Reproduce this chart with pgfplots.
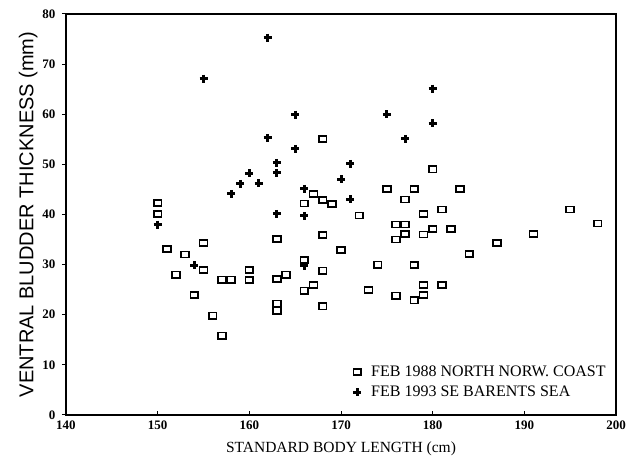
\documentclass[border=0pt]{standalone}
\usepackage{fontspec}
\setmainfont{Liberation Serif}
\newfontfamily\labsans{Liberation Sans}
\usepackage{pgfplots}
\pgfplotsset{compat=1.18}

% 1988 north Norwegian coast (open squares)
\pgfplotstableread{
x y
150 42.3
150 40.1
151 33.1
152 28.0
153 32.0
154 23.9
155 34.3
155 28.9
156 19.8
157 15.8
157 27.0
158 27.0
160 28.9
160 26.9
163 35.1
163 27.1
164 28.0
163 22.2
163 20.8
166 42.2
167 44.1
168 42.9
169 42.1
168 55.1
172 39.8
168 35.9
166 30.9
166 24.8
167 25.9
168 28.8
168 21.7
170 32.9
173 24.9
174 30.0
175 45.1
176 38.0
177 38.0
177 43.0
176 35.0
177 36.1
176 23.8
178 45.1
178 29.9
178 22.9
179 23.9
179 25.9
179 40.1
179 36.0
180 37.1
180 49.0
181 41.0
181 25.9
182 37.1
183 45.1
184 32.1
187 34.3
191 36.1
195 41.0
198 38.2
}\norw

% 1993 SE Barents Sea (plus)
\pgfplotstableread{
x y
162 75.3
155 67.1
165 59.9
162 55.3
165 53.1
163 50.3
171 50.1
163 48.3
160 48.2
159 46.1
161 46.2
170 47.0
158 44.1
166 45.1
171 43.0
163 40.1
166 39.7
150 38.0
154 29.9
166 29.8
180 65.1
175 60.0
180 58.2
177 55.1
}\barents

\begin{document}
\begin{tikzpicture}
\begin{axis}[
    scale only axis,
    width=550pt, height=401pt,
    xmin=140, xmax=200, ymin=0, ymax=80,
    xtick={140,150,...,200},
    ytick={0,10,...,80},
    axis line style={line width=1.3pt},
    tick style={line width=1pt, black},
    xtick pos=bottom, ytick pos=left,
    major tick length=4pt,
    xtick align=inside, ytick align=outside,
    /pgf/number format/assume math mode=true,
    ticklabel style={font=\fontsize{13}{15}\selectfont\bfseries},
    yticklabel style={xshift=-3pt},
    xticklabel style={yshift=-2pt},
    xlabel={STANDARD BODY LENGTH (cm)},
    ylabel={VENTRAL BLUDDER THICKNESS (mm)},
    xlabel style={font=\fontsize{15.5}{17}\selectfont, yshift=-6pt},
    ylabel style={font=\labsans\fontsize{20}{22}\selectfont, yshift=-2pt},
    legend style={at={(0.52,0.13)}, anchor=north west, draw=none, fill=none,
        font=\fontsize{16}{19}\selectfont, row sep=4pt,
        inner sep=1pt,
        /tikz/every odd column/.append style={column sep=8pt}},
    legend cell align=left,
]
\coordinate (bl) at (rel axis cs:0,0);
\coordinate (tr) at (rel axis cs:1,1);
\addplot[only marks, mark=square, mark size=3.1pt,
    mark options={xscale=1.25, line width=1.6pt, black}] table[x=x,y=y] {\norw};
\addplot[only marks, mark=+, mark size=4pt,
    mark options={line width=3pt, black}] table[x=x,y=y] {\barents};
\legend{FEB 1988 NORTH NORW. COAST, FEB 1993 SE BARENTS SEA}
\end{axis}
\pgfresetboundingbox
\path[use as bounding box] ([shift={(-66pt,-55pt)}]bl) rectangle ([shift={(10pt,14pt)}]tr);
\end{tikzpicture}
\end{document}
